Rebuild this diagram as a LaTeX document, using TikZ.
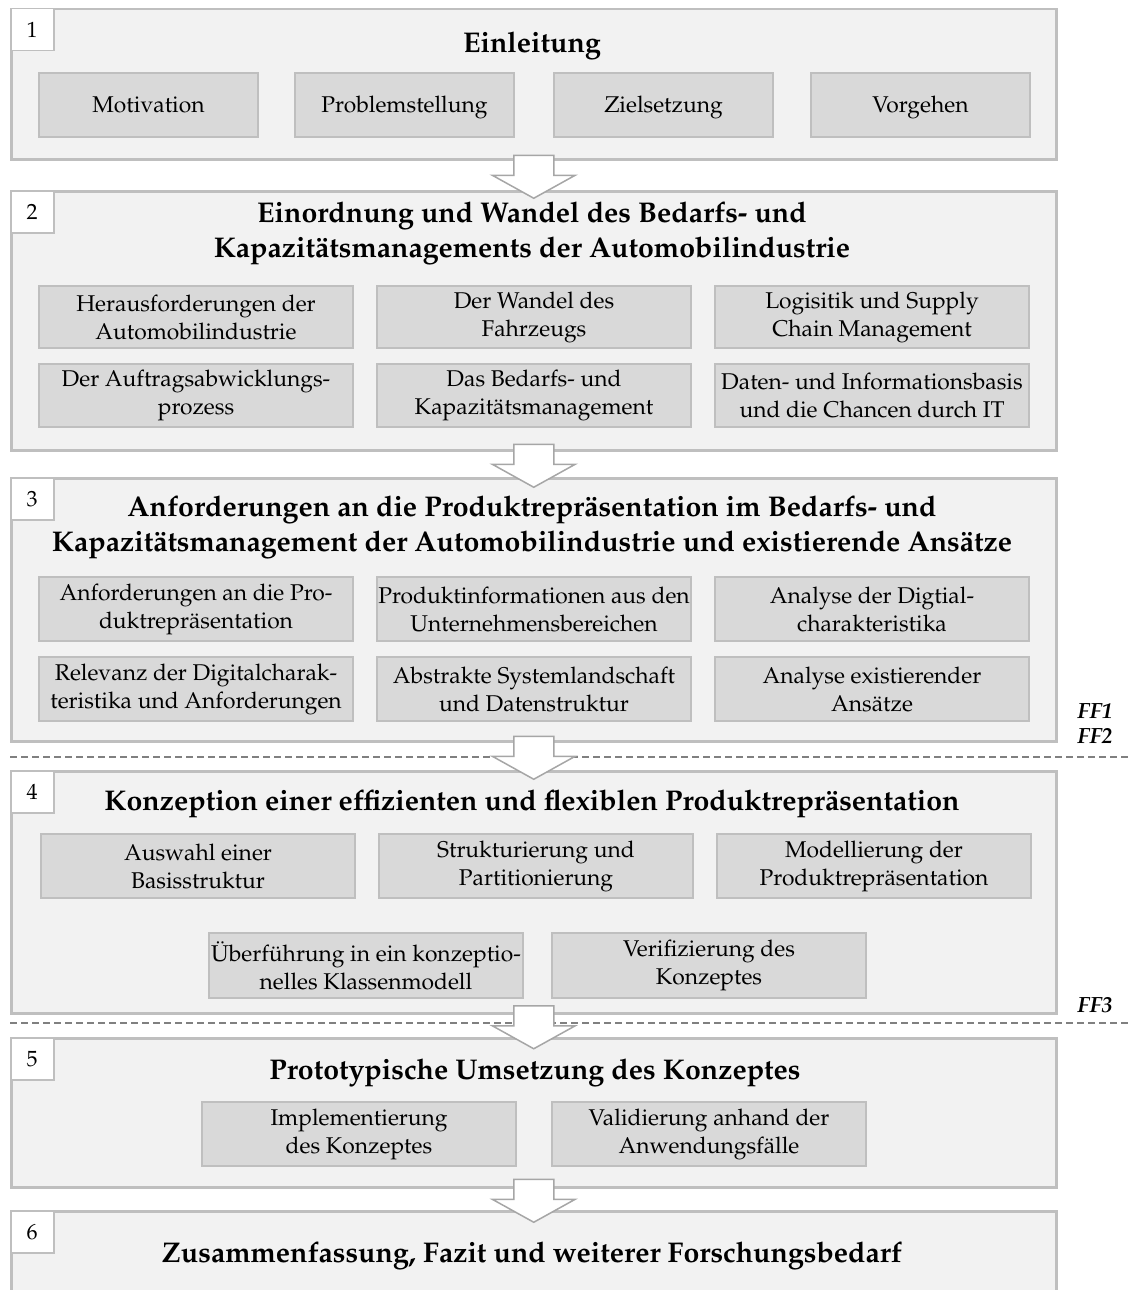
\documentclass[tikz,border=0pt]{standalone}
\usepackage[T1]{fontenc}
\usepackage{mathpazo}
\usetikzlibrary{calc}
\definecolor{secfill}{HTML}{F2F2F2}
\definecolor{secline}{HTML}{BFBFBF}
\definecolor{boxfill}{HTML}{D9D9D9}
\definecolor{boxline}{HTML}{BFBFBF}
\definecolor{arrline}{HTML}{A6A6A6}
\definecolor{dashcol}{HTML}{808080}
\begin{document}
\begin{tikzpicture}[x=1pt,y=-1pt,
  section/.style={draw=secline, fill=secfill, line width=2.5pt, anchor=north west, inner sep=0pt, minimum width=1045},
  numbox/.style={draw=secline, fill=white, line width=1.5pt, anchor=north west, minimum width=43, minimum height=42, inner sep=0pt, font=\fontsize{22}{26}\selectfont},
  sectitle/.style={font=\fontsize{28.5}{34.5}\selectfont\bfseries, align=center, inner sep=0pt},
  item/.style={draw=boxline, fill=boxfill, line width=2pt, anchor=north west, inner sep=0pt, align=center, minimum width=314, minimum height=64, font=\fontsize{22.8}{28}\selectfont},
  small/.style={minimum width=219, text height=18, text depth=3},
  dashline/.style={draw=dashcol, line width=1.5pt, dash pattern=on 7pt off 4pt},
  fflabel/.style={font=\fontsize{22}{25}\selectfont\bfseries\itshape, inner sep=0pt},
  blkarrow/.pic={\draw[draw=arrline, fill=white, line width=1.5pt, line join=miter]
     (-20,-20) -- (20,-20) -- (20,0) -- (41.5,0) -- (0,23) -- (-41.5,0) -- (-20,0) -- cycle;}
]
\useasboundingbox (0,0) rectangle (1132,1290);
\clip (0,0) rectangle (1132,1290);

% sections
\node[section, minimum height=150] (s1) at (10,8) {};
\node[section, minimum height=259] (s2) at (10,190) {};
\node[section, minimum height=263] (s3) at (10,477) {};
\node[section, minimum height=242] (s4) at (10,770) {};
\node[section, minimum height=149] (s5) at (10,1037) {};
\node[section, minimum height=110] (s6) at (10,1210) {};

% number boxes
\node[numbox] (n1) at (10,8) {1};
\node[numbox] (n2) at (10,190) {2};
\node[numbox] (n3) at (10,477) {3};
\node[numbox] (n4) at (10,770) {4};
\node[numbox] (n5) at (10,1037) {5};
\node[numbox] (n6) at (10,1210) {6};

% titles
\node[sectitle] (t1) at (532,45.5) {Einleitung};
\node[sectitle] (t2) at (532,233.5) {Einordnung und Wandel des Bedarfs- und\\Kapazit\"atsmanagements der Automobilindustrie};
\node[sectitle] (t3) at (532,527.5) {Anforderungen an die Produktrepr\"asentation im Bedarfs- und\\Kapazit\"atsmanagement der Automobilindustrie und existierende Ans\"atze};
\node[sectitle] (t4) at (532,803.5) {Konzeption einer effizienten und flexiblen Produktrepr\"asentation};
\node[sectitle] (t5) at (535,1072.5) {Prototypische Umsetzung des Konzeptes};
\node[sectitle] (t6) at (532,1255.5) {Zusammenfassung, Fazit und weiterer Forschungsbedarf};

% section 1 items
\node[item, small] (a1) at (38,72) {Motivation};
\node[item, small] (a2) at (294,72) {Problemstellung};
\node[item, small] (a3) at (553,72) {Zielsetzung};
\node[item, small] (a4) at (810,72) {Vorgehen};

% section 2 items
\node[item, minimum height=62] (b1) at (38,285) {Herausforderungen der\\Automobilindustrie};
\node[item, minimum height=62] (b2) at (376,285) {Der Wandel des\\Fahrzeugs};
\node[item, minimum height=62] (b3) at (714,285) {Logisitik und Supply\\Chain Management};
\node[item, minimum height=63] (b4) at (38,363) {Der Auftragsabwicklungs-\\prozess};
\node[item, minimum height=63] (b5) at (376,363) {Das Bedarfs- und\\Kapazit\"atsmanagement};
\node[item, minimum height=63] (b6) at (714,363) {Daten- und Informationsbasis\\und die Chancen durch IT};

% section 3 items
\node[item] (c1) at (38,576) {Anforderungen an die Pro-\\duktrepr\"asentation};
\node[item] (c2) at (376,576) {Produktinformationen aus den\\Unternehmensbereichen};
\node[item] (c3) at (714,576) {Analyse der Digtial-\\charakteristika};
\node[item] (c4) at (38,656) {Relevanz der Digitalcharak-\\teristika und Anforderungen};
\node[item] (c5) at (376,656) {Abstrakte Systemlandschaft\\und Datenstruktur};
\node[item] (c6) at (714,656) {Analyse existierender\\Ans\"atze};

% section 4 items
\node[item] (d1) at (40,833) {Auswahl einer\\Basisstruktur};
\node[item] (d2) at (378,833) {Strukturierung und\\Partitionierung};
\node[item] (d3) at (716,833) {Modellierung der\\Produktrepr\"asentation};
\node[item, minimum height=65] (d4) at (208,932) {\"Uberf\"uhrung in ein konzeptio-\\nelles Klassenmodell};
\node[item, minimum height=65] (d5) at (551,932) {Verifizierung des\\Konzeptes};

% section 5 items
\node[item] (e1) at (201,1101) {Implementierung\\des Konzeptes};
\node[item] (e2) at (551,1101) {Validierung anhand der\\Anwendungsf\"alle};

% dashed separators
\coordinate (ffa) at (10,757);
\coordinate (ffb) at (1132,757);
\coordinate (ffc) at (10,1023);
\coordinate (ffd) at (1132,1023);
\draw[dashline] (ffa) -- (ffb);
\draw[dashline] (ffc) -- (ffd);

% block arrows
\pic at ($(s1.south)!0.5!(s2.north)$) {blkarrow};
\pic at ($(s2.south)!0.5!(s3.north)$) {blkarrow};
\pic at ($(s3.south)!0.5!(s4.north)$) {blkarrow};
\pic at ($(s4.south)!0.5!(s5.north)$) {blkarrow};
\pic at ($(s5.south)!0.5!(s6.north)$) {blkarrow};

% FF labels
\node[fflabel] (ff1) at (1095,711) {FF1};
\node[fflabel] (ff2) at (1095,736) {FF2};
\node[fflabel] (ff3) at (1095,1005) {FF3};
\end{tikzpicture}
\end{document}
